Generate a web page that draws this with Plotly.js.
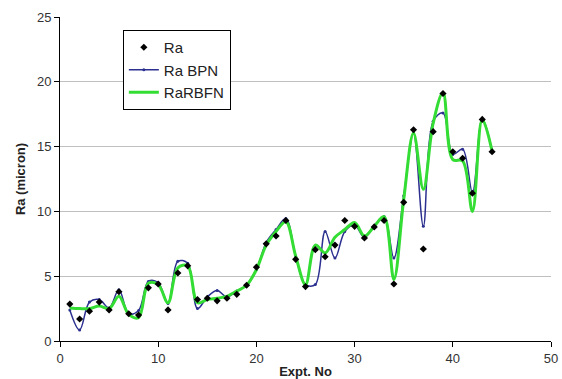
<!DOCTYPE html>
<html>
<head>
<meta charset="utf-8">
<script src="https://cdn.plot.ly/plotly-3.0.1.min.js"></script>
<style>html,body{margin:0;padding:0;background:#fff;}#chart{width:562px;height:379px;}</style>
</head>
<body>
<div id="chart"></div>
<script>
const expt = [1,2,3,4,5,6,7,8,9,10,11,12,13,14,15,16,17,18,19,20,21,22,23,24,25,26,27,28,29,30,31,32,33,34,35,36,37,38,39,40,41,42,43,44];
const ra = [2.85,1.7,2.3,3.0,2.4,3.8,2.1,2.0,4.1,4.4,2.4,5.25,5.8,3.2,3.3,3.1,3.3,3.6,4.3,5.7,7.5,8.1,9.3,6.3,4.2,7.05,6.5,7.4,9.3,8.85,7.95,8.8,9.3,4.4,10.7,16.3,7.1,16.15,19.1,14.6,14.1,11.4,17.1,14.6];
const raBPN = [2.4,0.85,3.0,3.2,2.55,3.95,2.1,2.35,4.6,4.5,2.9,6.15,6.0,2.5,3.4,3.9,3.4,3.85,4.3,5.5,7.6,8.6,9.45,6.55,4.35,4.35,8.45,6.4,8.45,8.95,8.0,8.85,9.6,6.4,11.2,16.05,8.85,16.95,17.6,14.4,14.8,11.45,17.15,14.65];
const raRBFN = [2.55,2.5,2.5,2.7,2.5,3.45,2.05,1.8,4.45,4.35,2.95,5.65,5.8,2.95,3.2,3.3,3.45,3.85,4.3,5.5,7.4,8.45,9.2,6.55,4.35,7.4,6.8,8.0,8.6,9.15,8.1,8.85,9.6,4.75,10.9,16.05,11.7,16.8,19.15,14.0,13.9,10.0,17.1,14.65];
const xTicks = [0,10,20,30,40,50];
const yTicks = [0,5,10,15,20,25];

const traces = [
  {x: expt, y: raBPN, name: 'Ra BPN', type: 'scatter', mode: 'lines+markers', legendrank: 2,
   line: {color: '#2b2f8f', width: 1.5, shape: 'spline', smoothing: 1},
   marker: {color: '#2b2f8f', size: 3, symbol: 'circle'}},
  {x: expt, y: raRBFN, name: 'RaRBFN', type: 'scatter', mode: 'lines', legendrank: 3,
   line: {color: '#33dd33', width: 3, shape: 'spline', smoothing: 1}},
  {x: expt, y: ra, name: 'Ra', type: 'scatter', mode: 'markers', legendrank: 1,
   marker: {color: '#000000', size: 5.5, symbol: 'diamond'}}
];

const layout = {
  width: 562, height: 379,
  margin: {l: 60, r: 11, t: 17, b: 38},
  paper_bgcolor: '#ffffff', plot_bgcolor: '#ffffff',
  font: {family: 'Liberation Sans, Arial, sans-serif', size: 13, color: '#333333'},
  showlegend: true,
  legend: {x: 0.128, y: 0.96, xanchor: 'left', yanchor: 'top',
    bgcolor: '#ffffff', bordercolor: '#000000', borderwidth: 1,
    font: {size: 15, color: '#222222'}, itemwidth: 30, tracegroupgap: 0},
  xaxis: {range: [0, 50], tickvals: xTicks, ticktext: xTicks.map(String),
    showgrid: false, zeroline: false, showline: true, linecolor: '#000000', linewidth: 1,
    ticks: 'outside', ticklen: 5, tickcolor: '#000000',
    title: {text: '<b>Expt. No</b>', font: {size: 13, color: '#222222'}, standoff: 2}},
  yaxis: {range: [0, 25], tickvals: yTicks, ticktext: yTicks.map(String),
    showgrid: true, gridcolor: '#c0c0c0', gridwidth: 1, zeroline: false,
    showline: true, linecolor: '#000000', linewidth: 1,
    ticks: 'outside', ticklen: 5, tickcolor: '#000000',
    title: {text: '<b>Ra (micron)</b>', font: {size: 13, color: '#222222'}, standoff: 8}}
};

Plotly.newPlot('chart', traces, layout, {displayModeBar: false, staticPlot: true});
</script>
</body>
</html>
